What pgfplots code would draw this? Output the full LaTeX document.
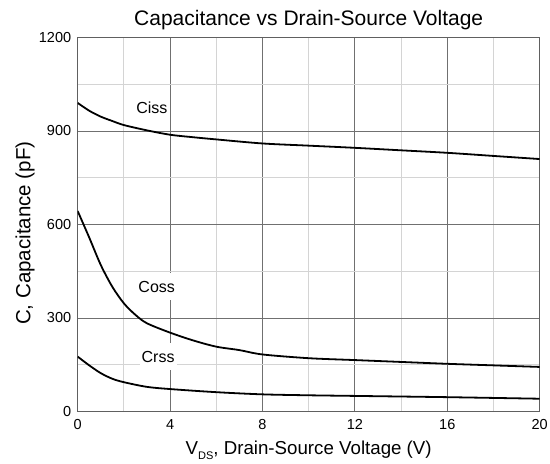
\documentclass[border=0pt]{standalone}
\usepackage{pgfplots}
\pgfplotsset{compat=1.18}
\usepackage{fontspec}
\setmainfont{Liberation Sans}
\definecolor{framegray}{HTML}{606060}
\definecolor{majgray}{HTML}{707070}
\definecolor{mingray}{HTML}{D4D4D4}
\begin{document}
\begin{tikzpicture}
\path[use as bounding box] (-77.7pt,-52.5pt) rectangle (472.3pt,411.5pt);
\begin{axis}[
  at={(0pt,0pt)}, anchor=south west,
  scale only axis, width=462pt, height=374pt,
  xmin=0, xmax=20, ymin=0, ymax=1200,
  xtick={0,4,...,20}, ytick={0,300,...,1200},
  minor xtick={2,6,...,18}, minor ytick={150,450,750,1050},
  grid=both,
  major grid style={majgray, line width=0.8pt},
  minor grid style={mingray, line width=0.8pt},
  major tick length=0pt, minor tick length=0pt,
  axis line style={framegray, line width=1.4pt},
  /pgf/number format/assume math mode=true,
  /pgf/number format/1000 sep={},
  tick label style={font=\fontsize{14.5}{17}\selectfont},
  xticklabel style={yshift=-4pt},
  yticklabel style={xshift=-3pt},
  title={Capacitance vs Drain-Source Voltage},
  title style={font=\fontsize{21}{25}\selectfont, at={(axis description cs:0.5,1)}, anchor=base, yshift=6pt},
  xlabel={V\raisebox{-0.45ex}{\fontsize{11}{12}\selectfont DS}, Drain-Source Voltage (V)},
  xlabel style={font=\fontsize{18.7}{22}\selectfont, at={(axis description cs:0.5,0)}, anchor=base, yshift=-43.5pt},
  ylabel={C, Capacitance (pF)},
  ylabel style={font=\fontsize{20.5}{24}\selectfont, at={([xshift=-52.7pt]axis description cs:0,0.477)}, anchor=center},
  clip=true,
]
\addplot[black, line width=1.8pt, smooth] coordinates {
(0,990) (0.5,965) (1,946) (1.5,932) (2,919) (3,902) (4,888) (5,880) (6,873) (8,860) (10,853) (12,846) (14,838) (16,830) (18,820) (20,810)};
\addplot[black, line width=1.8pt, smooth] coordinates {
(0,643) (0.5,558) (1,470) (1.5,400) (2,347) (2.5,310) (3,283) (4,253) (5,228) (6,208) (7,197) (8,183) (10,171) (12,165) (14,159) (16,153) (18,148) (20,143)};
\addplot[black, line width=1.8pt, smooth] coordinates {
(0,176) (0.5,148) (1,123) (1.5,105) (2,94) (3,79) (4,72) (6,62) (8,55) (10,52) (12,50) (16,46) (20,41)};
\node[fill=white, inner xsep=2pt, inner ysep=6pt, font=\fontsize{16}{19}\selectfont] at (axis cs:3.21,975) {Ciss};
\node[fill=white, inner xsep=2pt, inner ysep=8pt, font=\fontsize{16}{19}\selectfont] at (axis cs:3.42,400) {Coss};
\node[fill=white, inner xsep=2pt, inner ysep=8pt, font=\fontsize{16}{19}\selectfont] at (axis cs:3.48,176) {Crss};
\end{axis}
\end{tikzpicture}
\end{document}
